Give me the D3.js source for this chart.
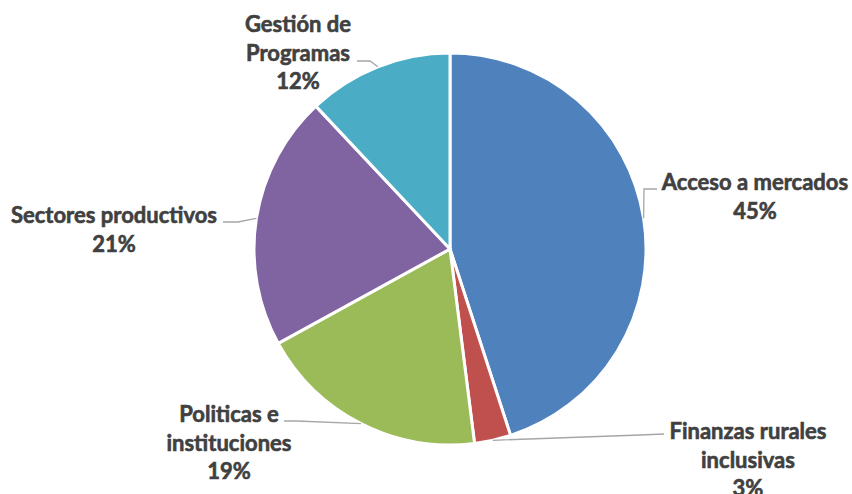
<!DOCTYPE html>
<html>
<head>
<meta charset="utf-8">
<script src="https://cdn.jsdelivr.net/npm/d3@7"></script>
<style>
  html, body { margin: 0; padding: 0; background: #ffffff; }
  svg { display: block; }
  .lbl { font-family: Lato, "Open Sans", sans-serif; font-weight: 700; fill: #404040;
         stroke: #404040; stroke-width: 0.6; paint-order: stroke; }
</style>
</head>
<body>
<svg id="chart" width="852" height="494"></svg>
<script>
// Share of portfolio by area (percent)
const categories = ["Acceso a mercados", "Finanzas rurales inclusivas", "Politicas e instituciones", "Sectores productivos", "Gestión de Programas"];
const values = [45, 3, 19, 21, 12];
const colors = ["#4F81BD", "#C0504D", "#9BBB59", "#8064A2", "#4BACC6"];
// Label text split over lines
const labelLines = [
  ["Acceso a mercados"],
  ["Finanzas rurales", "inclusivas"],
  ["Politicas e", "instituciones"],
  ["Sectores productivos"],
  ["Gestión de", "Programas"]
];

// Label placement: text centre x, first baseline y, leader path start and elbow
const labelLayout = [
  { x: 755, y: 190, start: [657, 189], elbow: [644, 189] },
  { x: 748, y: 439, start: [664, 434], elbow: [640, 435] },
  { x: 229, y: 422, start: [284, 421], elbow: [297, 421] },
  { x: 114, y: 223, start: [223, 222], elbow: [238, 222] },
  { x: 298, y: 32,  start: [357, 61],  elbow: [370, 61] }
];

const svg = d3.select("#chart");
const cx = 450, cy = 249, r = 196;
const lineH = 28.7;

const pie = d3.pie().sort(null).value(d => d.value);
const arcs = pie(categories.map((c, i) => ({ name: c, value: values[i], i })));
const arc = d3.arc().innerRadius(0).outerRadius(r);

const g = svg.append("g").attr("transform", `translate(${cx},${cy})`);
g.selectAll("path.slice")
  .data(arcs)
  .enter().append("path")
  .attr("class", "slice")
  .attr("d", arc)
  .attr("fill", d => colors[d.data.i])
  .attr("stroke", "#ffffff")
  .attr("stroke-width", 3)
  .attr("stroke-linejoin", "round");

// Leader lines: from label to the slice's outer edge at its mid-angle
const leaders = svg.append("g");
arcs.forEach(d => {
  const L = labelLayout[d.data.i];
  const mid = (d.startAngle + d.endAngle) / 2;
  const ex = cx + r * Math.sin(mid);
  const ey = cy - r * Math.cos(mid);
  leaders.append("polyline")
    .attr("points", [L.start, L.elbow, [ex, ey]].map(p => p.join(",")).join(" "))
    .attr("fill", "none")
    .attr("stroke", "#A6A6A6")
    .attr("stroke-width", 1.3);
});

// Labels: category name plus percentage
const labels = svg.append("g");
arcs.forEach(d => {
  const L = labelLayout[d.data.i];
  const lines = labelLines[d.data.i].concat([d.data.value + "%"]);
  const t = labels.append("text")
    .attr("class", "lbl")
    .attr("text-anchor", "middle")
    .attr("font-size", 22);
  lines.forEach((s, k) => {
    t.append("tspan").attr("x", L.x).attr("y", L.y + k * lineH).text(s);
  });
});
</script>
</body>
</html>
